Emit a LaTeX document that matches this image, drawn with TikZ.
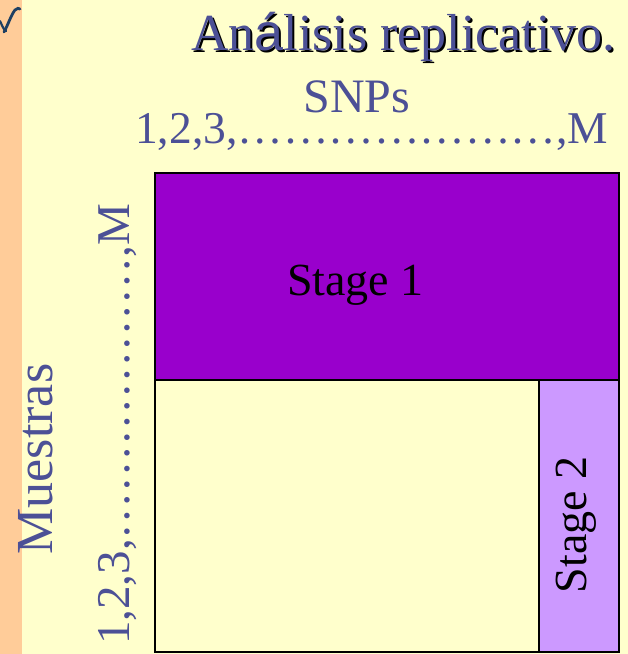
\documentclass[tikz,border=0pt]{standalone}
\usepackage{fontspec}
\setmainfont{Liberation Serif}
\newfontfamily\accsans{Liberation Sans}
\definecolor{paper}{HTML}{FFFFCC}
\definecolor{stripe}{HTML}{FFCC99}
\definecolor{ink}{HTML}{4C5096}
\definecolor{stageone}{HTML}{9900CC}
\definecolor{stagetwo}{HTML}{CC99FF}
\definecolor{logo}{HTML}{1E3F62}
\tikzset{
  lbl/.style={inner sep=0pt, text=ink},
  fs/.style={font=\fontsize{#1}{#1}\selectfont},
  frame/.style={draw=black, line width=2.5pt},
  inner/.style={draw=black, line width=1.5pt},
}
\begin{document}
\begin{tikzpicture}[x=1pt,y=-1pt]
  % page and side stripe
  \fill[paper] (0,0) rectangle (628,654);
  \fill[stripe] (0,0) rectangle (22,654);
  \useasboundingbox (0,0) rectangle (628,654);
  % corner emblem stroke
  \draw[logo, line width=2.8pt, line cap=round]
    (4,32) .. controls (8,25) and (11,15) .. (15,10) .. controls (17,8) and (19,8) .. (20,9);
  \draw[logo, line width=2.2pt, line cap=round]
    (0,21) .. controls (2,25) and (3,29) .. (6,31);

  % title with drop shadow
  \node[inner sep=0pt, anchor=base west, text=black, fs=52] (titleshadow) at (193,52)
    {An{\accsans á}lisis replicativo.};
  \node[lbl, anchor=base west, fs=52] (title) at (191,50)
    {An{\accsans á}lisis replicativo.};

  % column axis
  \node[lbl, anchor=base, fs=48] (snps) at (357,112) {SNPs};
  \node[lbl, anchor=base west, fs=45.5] (cols) at (135,143)
    {1,2,3,…………………,M};

  % row axis
  \node[lbl, anchor=base, rotate=90, fs=52] (muestras) at (52,459) {Muestras};
  \node[lbl, anchor=base west, rotate=90, fs=47] (rows) at (129,645)
    {1,2,3,………………,M};

  % data matrix and the two stages
  \fill[paper] (155,173) rectangle (619,652);
  \draw[inner, fill=stageone] (155,173) rectangle (619,380);
  \draw[inner, fill=stagetwo] (539,380) rectangle (619,652);
  \draw[frame] (155,173) rectangle (619,652);

  \node[inner sep=0pt, anchor=base, fs=46] (stage1) at (355.5,295) {Stage 1};
  \node[inner sep=0pt, anchor=base, rotate=90, fs=46] (stage2) at (586,525) {Stage 2};
\end{tikzpicture}
\end{document}
